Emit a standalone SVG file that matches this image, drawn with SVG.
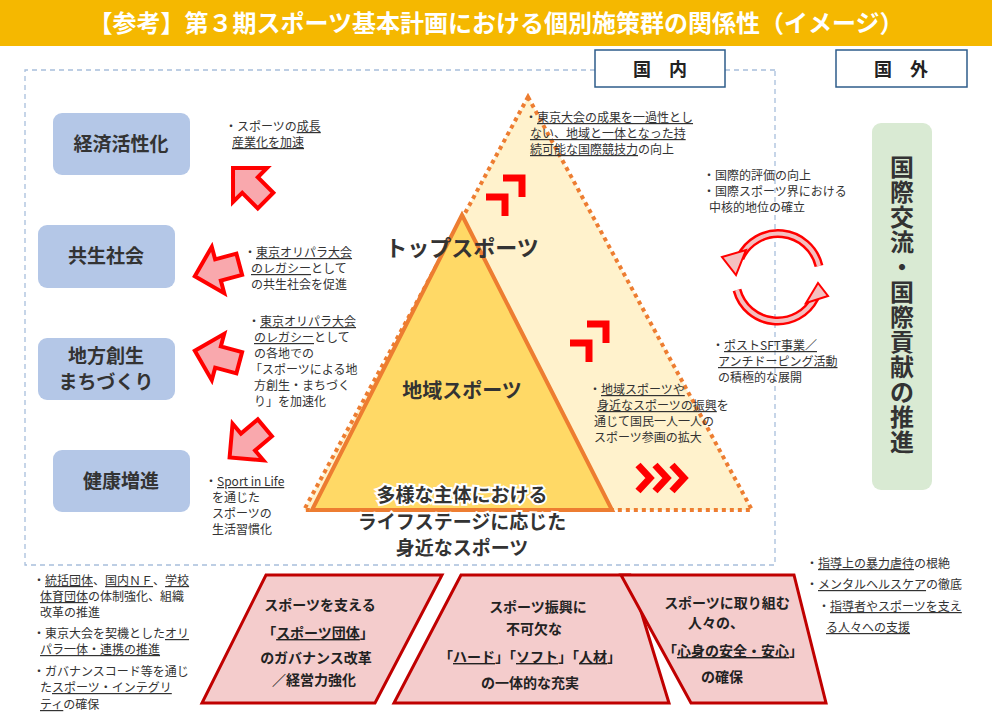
<svg xmlns="http://www.w3.org/2000/svg" width="992" height="720" viewBox="0 0 992 720">
<defs>
<style>
text{font-family:"Noto Sans CJK JP","Liberation Sans",sans-serif}
.t{font-size:12px;fill:#333}
.u{text-decoration:underline}
.b{font-weight:bold;fill:#333}
.node{fill:#b4c7e7}
.nt{font-size:19px;font-weight:bold;fill:#333;text-anchor:middle}
.tr{fill:#f4cccc;stroke:#c00000;stroke-width:3}
.tt{font-size:14px;font-weight:bold;fill:#222;text-anchor:middle}
.ar{fill:#f9a8ad;stroke:#ff0000;stroke-width:4;stroke-linejoin:miter}
.ch{fill:none;stroke:#ff0000;stroke-width:7;stroke-linecap:butt;stroke-linejoin:miter}
.hd{fill:#fff;stroke:#2e5c8a;stroke-width:1.5}
.vt{font-size:24px;font-weight:bold;fill:#333;text-anchor:middle}
</style>
<polygon id="arw" points="-24,0 0,-24 0,-11 22,-11 22,11 0,11 0,24"/>
</defs>
<rect x="0" y="0" width="992" height="46" fill="#f5b800"/>
<text x="496" y="32" font-size="24" font-weight="bold" fill="#fff" text-anchor="middle">【参考】第３期スポーツ基本計画における個別施策群の関係性（イメージ）</text>
<path d="M775,70 H25 V565 H775 Z" fill="none" stroke="#a8bfdc" stroke-width="1.3" stroke-dasharray="5,4"/>
<g id="kokunai"><rect class="hd" x="595" y="50" width="130" height="37"/><text x="660" y="76" font-size="18" font-weight="bold" fill="#222" text-anchor="middle">国　内</text></g>
<g id="kokugai"><rect class="hd" x="836" y="50" width="131" height="37"/><text x="901" y="76" font-size="18" font-weight="bold" fill="#222" text-anchor="middle">国　外</text></g>
<g id="n1"><rect class="node" x="53" y="113" width="137" height="62" rx="9"/><text class="nt" x="121" y="151">経済活性化</text></g>
<g id="n2"><rect class="node" x="38" y="225" width="137" height="63" rx="9"/><text class="nt" x="106" y="263">共生社会</text></g>
<g id="n3"><rect class="node" x="38" y="338" width="137" height="62" rx="9"/><text class="nt" x="106" y="363">地方創生</text><text class="nt" x="106" y="389">まちづくり</text></g>
<g id="n4"><rect class="node" x="53" y="450" width="137" height="62" rx="9"/><text class="nt" x="121" y="488">健康増進</text></g>
<g id="pyramid">
<polygon points="528,97 752,510 304,510" fill="#fff2cc" stroke="#ed7d31" stroke-width="4" stroke-dasharray="4,4"/>
<polygon points="462,215 612,510 312,510" fill="#ffd966" stroke="#ed7d31" stroke-width="4"/>
<text class="b" x="462" y="256" font-size="22" text-anchor="middle" fill="#222">トップスポーツ</text>
<text class="b" x="462" y="398" font-size="20" text-anchor="middle">地域スポーツ</text>
<text class="b" x="462" y="502" font-size="19" text-anchor="middle" stroke="#fff" stroke-width="4" paint-order="stroke">多様な主体における</text>
<text class="b" x="462" y="529" font-size="19" text-anchor="middle" stroke="#fff" stroke-width="4" paint-order="stroke">ライフステージに応じた</text>
<text class="b" x="462" y="555" font-size="19" text-anchor="middle" stroke="#fff" stroke-width="4" paint-order="stroke">身近なスポーツ</text>
</g>
<g id="international"><rect x="872" y="123" width="60" height="367" rx="9" fill="#d9ead3"/>
<text class="vt" x="902" y="176">国</text><text class="vt" x="902" y="201">際</text><text class="vt" x="902" y="226">交</text><text class="vt" x="902" y="251">流</text><text class="vt" x="902" y="276">・</text><text class="vt" x="902" y="301">国</text><text class="vt" x="902" y="326">際</text><text class="vt" x="902" y="351">貢</text><text class="vt" x="902" y="376">献</text><text class="vt" x="902" y="401">の</text><text class="vt" x="902" y="426">推</text><text class="vt" x="902" y="451">進</text></g>
<g id="connectors">
<use href="#arw" class="ar" transform="translate(250,185) rotate(45)"/>
<use href="#arw" class="ar" transform="translate(218,270) rotate(-15)"/>
<use href="#arw" class="ar" transform="translate(218,357) rotate(15)"/>
<use href="#arw" class="ar" transform="translate(248,442) rotate(-40)"/>
<polyline class="ch" points="486,197 505,197 505,216"/>
<polyline class="ch" points="503,178 522,178 522,197"/>
<polyline class="ch" points="570,343 589,343 589,362"/>
<polyline class="ch" points="587,324 606,324 606,343"/>
<polyline class="ch" points="638,465 650,478 638,491"/>
<polyline class="ch" points="655,465 667,478 655,491"/>
<polyline class="ch" points="672,465 684,478 672,491"/>
<path d="M819,266 A42,42 0 0 0 740,258" fill="none" stroke="#ff0000" stroke-width="9"/>
<path d="M819,266 A42,42 0 0 0 740,258" fill="none" stroke="#f4c0c0" stroke-width="4"/>
<polygon points="722,257 746,250 736,275" fill="#f4c0c0" stroke="#ff0000" stroke-width="2"/>
<path d="M737,290 A42,42 0 0 0 815,298" fill="none" stroke="#ff0000" stroke-width="9"/>
<path d="M737,290 A42,42 0 0 0 815,298" fill="none" stroke="#f4c0c0" stroke-width="4"/>
<polygon points="828,296 806,303 818,283" fill="#f4c0c0" stroke="#ff0000" stroke-width="2"/>
</g>
<g id="notes" class="t">
<text x="225" y="131">・スポーツの<tspan class="u">成長</tspan></text>
<text x="232" y="147" class="u">産業化を加速</text>
<text x="244" y="257">・<tspan class="u">東京オリパラ大会</tspan></text>
<text x="251" y="273"><tspan class="u">のレガシー</tspan>として</text>
<text x="251" y="289">の共生社会を促進</text>
<text x="248" y="326">・<tspan class="u">東京オリパラ大会</tspan></text>
<text x="254" y="342"><tspan class="u">のレガシー</tspan>として</text>
<text x="254" y="358">の各地での</text>
<text x="250" y="374">「スポーツによる地</text>
<text x="254" y="390">方創生・まちづく</text>
<text x="254" y="406">り」を加速化</text>
<text x="205" y="486">・<tspan class="u">Sport in Life</tspan></text>
<text x="212" y="502">を通じた</text>
<text x="212" y="518">スポーツの</text>
<text x="212" y="534">生活習慣化</text>
<text x="525" y="122">・<tspan class="u">東京大会の成果を一過性とし</tspan></text>
<text x="530" y="138" class="u">ない、地域と一体となった持</text>
<text x="530" y="154"><tspan class="u">続可能な国際競技力</tspan>の向上</text>
<text x="703" y="180">・国際的評価の向上</text>
<text x="703" y="196">・国際スポーツ界における</text>
<text x="709" y="212">中核的地位の確立</text>
<text x="712" y="350">・<tspan class="u">ポストSFT事業／</tspan></text>
<text x="718" y="366" class="u">アンチドーピング活動</text>
<text x="718" y="382">の積極的な展開</text>
<text x="589" y="394">・<tspan class="u">地域スポーツや</tspan></text>
<text x="597" y="410"><tspan class="u">身近なスポーツの振興</tspan>を</text>
<text x="594" y="426">通じて国民一人一人の</text>
<text x="594" y="442">スポーツ参画の拡大</text>
<text x="33" y="585">・<tspan class="u">統括団体</tspan>、<tspan class="u">国内ＮＦ</tspan>、<tspan class="u">学校</tspan></text>
<text x="40" y="601"><tspan class="u">体育団体</tspan>の体制強化、組織</text>
<text x="40" y="617">改革の推進</text>
<text x="33" y="638">・東京大会を契機とした<tspan class="u">オリ</tspan></text>
<text x="40" y="654" class="u">パラ一体・連携の推進</text>
<text x="33" y="676">・ガバナンスコード等を通じ</text>
<text x="40" y="692">た<tspan class="u">スポーツ・インテグリ</tspan></text>
<text x="40" y="709"><tspan class="u">ティ</tspan>の確保</text>
<text x="806" y="568">・<tspan class="u">指導上の暴力虐待</tspan>の根絶</text>
<text x="806" y="589">・<tspan class="u">メンタルヘルスケア</tspan>の徹底</text>
<text x="818" y="611">・<tspan class="u">指導者やスポーツを支え</tspan></text>
<text x="826" y="632" class="u">る人々への支援</text>
</g>
<g id="t1"><polygon class="tr" points="266,575 442,575 375,703 202,703"/>
<text class="tt" x="320" y="610">スポーツを支える</text>
<text class="tt" x="318" y="638">「<tspan class="u">スポーツ団体</tspan>」</text>
<text class="tt" x="316" y="663">のガバナンス改革</text>
<text class="tt" x="314" y="685">／経営力強化</text></g>
<g id="t2"><polygon class="tr" points="461,575 630,575 669,703 394,703"/>
<text class="tt" x="538" y="612">スポーツ振興に</text>
<text class="tt" x="534" y="634">不可欠な</text>
<text class="tt" x="530" y="662">「<tspan class="u">ハード</tspan>」「<tspan class="u">ソフト</tspan>」「<tspan class="u">人材</tspan>」</text>
<text class="tt" x="530" y="688">の一体的な充実</text></g>
<g id="t3"><polygon class="tr" points="621,575 794,575 826,703 691,703"/>
<text class="tt" x="727" y="608">スポーツに取り組む</text>
<text class="tt" x="716" y="628">人々の、</text>
<text class="tt" x="733" y="656">「<tspan class="u">心身の安全・安心</tspan>」</text>
<text class="tt" x="722" y="682">の確保</text></g>
</svg>
